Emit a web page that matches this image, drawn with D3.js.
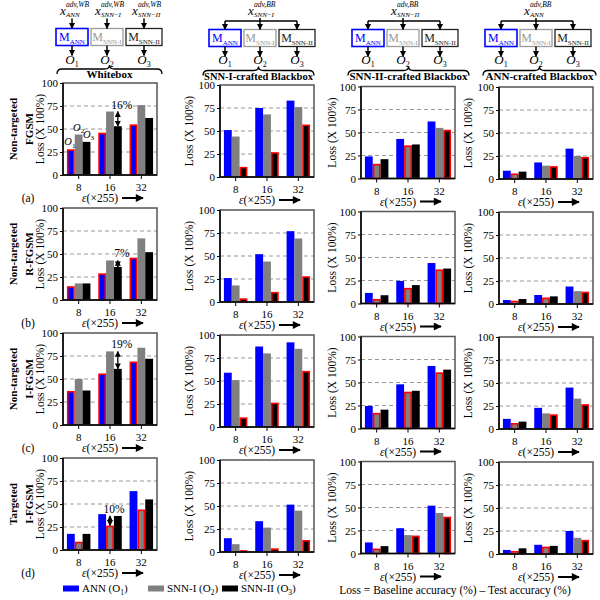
<!DOCTYPE html>
<html>
<head>
<meta charset="utf-8">
<script src="https://cdn.jsdelivr.net/npm/d3@7"></script>
<style>
  body { margin: 0; background: #fff; }
  svg text { font-family: "Liberation Serif", "DejaVu Serif", serif; }
</style>
</head>
<body>
<div id="viz"></div>
<script>
// categories / labels
const epsTicks = ["8", "16", "32"];
const seriesNames = ["ANN", "SNN-I", "SNN-II"];
const seriesColors = ["#0000ff", "#808080", "#000000"];
const yTicks = [0, 25, 50, 75, 100];
const panelTitles = ["Whitebox", "SNN-I-crafted Blackbox", "SNN-II-crafted Blackbox", "ANN-crafted Blackbox"];
const crafters = ["", "SNN\u2212I", "SNN\u2212II", "ANN"];
const modelSubs = ["ANN", "SNN-I", "SNN-II"];
const rowNames = [["Non-targeted", "FGSM"], ["Non-targeted", "R-FGSM"], ["Non-targeted", "I-FGSM"], ["Targeted", "I-FGSM"]];
const rowTags = ["(a)", "(b)", "(c)", "(d)"];

// loss (x100%) per panel: [eps 8, 16, 32] x [ANN, SNN-I, SNN-II]
// panel order: whitebox, SNN-I crafted, SNN-II crafted, ANN crafted
const lossFGSM = [
  [[28, 44, 36], [46, 69, 53], [55, 76, 62]],
  [[51, 44, 11], [75, 68, 27], [83, 76, 57]],
  [[24, 16, 21], [43, 36, 37], [62, 55, 53]],
  [[9, 6, 8], [18, 14.5, 14], [33, 25, 24]]
];
const lossRFGSM = [
  [[15, 18, 18], [29, 43, 36], [46, 67, 52]],
  [[26, 18, 4], [52, 44, 11], [77, 69, 28]],
  [[11.5, 5, 9], [24.5, 17, 20], [44, 37, 38]],
  [[4.3, 3.6, 5.4], [9.8, 7, 8.3], [19, 14, 13.4]]
];
const lossIFGSM = [
  [[37, 50, 37.5], [56, 80, 61], [69, 84, 72]],
  [[59, 51, 10.5], [87.5, 80, 26.5], [92, 85, 61]],
  [[24.5, 17, 20.5], [48, 40, 41], [68, 61, 64]],
  [[11, 6.5, 8], [23, 17, 16], [45, 33, 27]]
];
const lossTIFGSM = [
  [[17.5, 9, 17.5], [39, 26.5, 37], [64, 44, 55]],
  [[15, 8.5, 2], [33.5, 26.5, 4], [51.5, 45, 13]],
  [[12, 5.4, 8], [27.5, 20, 19.5], [52, 44, 40]],
  [[4.4, 3.3, 6.2], [10, 8, 8.8], [25, 17.6, 15.4]]
];
// gap annotations in the whitebox panels (eps 16)
const gapLabels = ["16%", "7%", "19%", "10%"];
const gapFrom = [2, 2, 2, 1];
const gapTo = [1, 1, 1, 2];

const allLoss = [lossFGSM, lossRFGSM, lossIFGSM, lossTIFGSM];

// layout
const colLeft = [63, 220, 361, 499], colDy = [0, 2, 3.5, 4];
const rowTop = [83, 208, 333, 458];
const pw = 94, ph = 92;
const yLabOff = [19, 27, 25, 27];
const diagStart = [56, 209, 352, 485];
const boxRel = [[0, 32], [35, 67], [70, 106]];
const braceSpan = [[57, 162], [203, 314], [348, 469], [483, 596]];
const titleSize = [11, 10.5, 11, 11];
const boxColors = ["#0000ff", "#9a9a9a", "#222"];
const oShift = [-1, 0, 2];
const diagDy = -1.5;

const svg = d3.select("#viz").append("svg")
    .attr("width", 600).attr("height", 600);

const defs = svg.append("defs");
defs.append("marker").attr("id", "ah")
    .attr("viewBox", "0 0 10 10").attr("refX", 9).attr("refY", 5)
    .attr("markerWidth", 6).attr("markerHeight", 6)
    .attr("markerUnits", "userSpaceOnUse").attr("orient", "auto-start-reverse")
  .append("path").attr("d", "M0,0L10,5L0,10Z");
defs.append("marker").attr("id", "ahBig")
    .attr("viewBox", "0 0 10 10").attr("refX", 9).attr("refY", 5)
    .attr("markerWidth", 10).attr("markerHeight", 8)
    .attr("markerUnits", "userSpaceOnUse").attr("orient", "auto")
  .append("path").attr("d", "M0,0L10,5L0,10Z");

// text with tspans: parts = [{t, dy, size, it}]
function rich(parent, x, y, parts, size) {
  const t = parent.append("text").attr("x", x).attr("y", y).attr("font-size", size);
  parts.forEach(p => {
    t.append("tspan").attr("dy", p.dy || 0).attr("font-size", p.size || size)
      .style("font-style", p.it ? "italic" : null).text(p.t);
  });
  return t;
}

// scales
const x0 = d3.scaleBand().domain(epsTicks).range([0, pw]).paddingInner(0.25).paddingOuter(0.125);
const x1 = d3.scaleBand().domain([0, 1, 2]).range([0, x0.bandwidth()]);
const y = d3.scaleLinear().domain([0, 100]).range([ph, 0]);

allLoss.forEach((rowData, r) => {
  rowData.forEach((panel, c) => {
    const g = svg.append("g")
        .attr("transform", `translate(${colLeft[c]},${rowTop[r] + colDy[c]})`);

    // dashed grid
    g.selectAll(".grid").data([25, 50, 75]).enter().append("line")
        .attr("x1", 0).attr("x2", pw)
        .attr("y1", d => y(d)).attr("y2", d => y(d))
        .attr("stroke", "#999").attr("stroke-width", 1.2)
        .attr("stroke-dasharray", "4,3");

    // bars
    const grp = g.selectAll(".grp").data(panel).enter().append("g")
        .attr("transform", (d, i) => `translate(${x0(epsTicks[i])},0)`);
    grp.selectAll("rect")
        .data(d => d.map((v, k) => ({v, k, min: v === d3.min(d)})))
        .enter().append("rect")
        .attr("x", d => x1(d.k) + (d.min ? 0.8 : 0))
        .attr("width", d => x1.bandwidth() - (d.min ? 1.6 : 0))
        .attr("y", d => y(d.v) + (d.min ? 0.8 : 0))
        .attr("height", d => Math.max(0, ph - y(d.v) - (d.min ? 0.8 : 0)))
        .attr("fill", d => seriesColors[d.k])
        .attr("stroke", d => d.min ? "#ff0000" : "none")
        .attr("stroke-width", 1.6);

    // axes
    const ya = g.append("g")
        .call(d3.axisLeft(y).tickValues(yTicks).tickSize(3).tickPadding(2));
    const xa = g.append("g").attr("transform", `translate(0,${ph})`)
        .call(d3.axisBottom(x0).tickSize(4).tickPadding(3));
    [ya, xa].forEach(a => {
      a.attr("font-family", "Liberation Serif").attr("font-size", 11);
      a.select(".domain").remove();
      a.selectAll("text").attr("fill", "#000");
    });
    xa.selectAll("text").attr("dy", "0.85em");

    // frame
    g.append("rect").attr("width", pw).attr("height", ph)
        .attr("fill", "none").attr("stroke", "#555").attr("stroke-width", 1.5);
    g.append("path").attr("d", `M0,0V${ph}H${pw}`)
        .attr("fill", "none").attr("stroke", "#000").attr("stroke-width", 1.5);

    // y label
    g.append("text")
        .attr("transform", `translate(${-yLabOff[c]},${ph / 2}) rotate(-90)`)
        .attr("text-anchor", "middle").attr("font-size", 11.5)
        .text("Loss (X 100%)");

    // x title with arrow
    rich(g, pw / 2 + 8, ph + 27, [{t: "\u03b5", it: true}, {t: "(\u00d7255)"}], 11.5)
        .attr("text-anchor", "end");
    g.append("line")
        .attr("x1", pw / 2 + 12).attr("x2", pw / 2 + 33)
        .attr("y1", ph + 23).attr("y2", ph + 23)
        .attr("stroke", "#000").attr("stroke-width", 2)
        .attr("marker-end", "url(#ahBig)");

    if (c === 0) {
      // row labels
      rowNames[r].forEach((s, i) => {
        g.append("text")
            .attr("transform", `translate(${-46 + i * 16},${ph / 2}) rotate(-90)`)
            .attr("text-anchor", "middle").attr("font-size", 11)
            .attr("font-weight", "bold").text(s);
      });
      g.append("text").attr("x", -35).attr("y", ph + 27)
          .attr("text-anchor", "middle").attr("font-size", 11.5).text(rowTags[r]);

      // gap annotation at eps 16
      const gi = 1;
      const from = panel[gi][gapFrom[r]], to = panel[gi][gapTo[r]];
      const ax = x0(epsTicks[gi]) + x1(gapFrom[r]) + x1.bandwidth() / 2;
      g.append("line")
          .attr("x1", ax).attr("x2", ax)
          .attr("y1", y(from)).attr("y2", y(to))
          .attr("stroke", "#000").attr("stroke-width", 1.3)
          .attr("marker-start", "url(#ah)").attr("marker-end", "url(#ah)");
      g.append("text").attr("x", ax + 4).attr("y", y(to) - 3)
          .attr("text-anchor", "middle").attr("font-size", 11.5)
          .text(gapLabels[r]);

      // O labels on first panel
      if (r === 0) {
        panel[0].forEach((v, k) => {
          rich(g, x0(epsTicks[0]) + x1(k) + x1.bandwidth() / 2 + oShift[k], y(v) - 4,
              [{t: "O", it: true}, {t: String(k + 1), dy: 2.5, size: 7}], 10.5)
              .attr("text-anchor", "middle");
        });
      }
    }
  });
});

// model diagrams on top
panelTitles.forEach((title, c) => {
  const d = svg.append("g").attr("transform", `translate(${diagStart[c]},${diagDy})`);
  const centers = boxRel.map(b => (b[0] + b[1]) / 2);
  const boxTop = c === 0 ? 30 : 31, boxH = 17;

  boxRel.forEach((b, k) => {
    d.append("rect").attr("x", b[0]).attr("y", boxTop)
        .attr("width", b[1] - b[0]).attr("height", boxH)
        .attr("fill", "#fff").attr("stroke", boxColors[k])
        .attr("stroke-width", k === 0 ? 1.6 : 1.3);
    rich(d, centers[k], boxTop + 12.5,
        [{t: "M"}, {t: modelSubs[k], dy: 2.5, size: 7}], 12)
        .attr("text-anchor", "middle").attr("fill", boxColors[k]);
    // arrow to output
    d.append("line").attr("x1", centers[k]).attr("x2", centers[k])
        .attr("y1", boxTop + boxH).attr("y2", boxTop + boxH + 10)
        .attr("stroke", "#000").attr("stroke-width", 1.5).attr("marker-end", "url(#ah)");
    rich(d, centers[k], 65.5, [{t: "O", it: true}, {t: String(k + 1), dy: 3, size: 8}], 13)
        .attr("text-anchor", "middle");
  });

  const xLabel = (cx, sup, sub) => {
    d.append("text").attr("x", cx - 12).attr("y", 16).attr("font-size", 13)
        .style("font-style", "italic").text("x");
    d.append("text").attr("x", cx - 6).attr("y", 8.5).attr("font-size", 7.5)
        .style("font-style", "italic").text(sup);
    d.append("text").attr("x", cx - 6).attr("y", 18.5).attr("font-size", 7)
        .style("font-style", "italic").text(sub);
  };

  if (c === 0) {
    ["ANN", "SNN\u2212I", "SNN\u2212II"].forEach((s, k) => {
      xLabel(centers[k], "adv,WB", s);
      d.append("line").attr("x1", centers[k]).attr("x2", centers[k])
          .attr("y1", 20).attr("y2", boxTop)
          .attr("stroke", "#000").attr("stroke-width", 1.5).attr("marker-end", "url(#ah)");
    });
  } else {
    xLabel(centers[1], "adv,BB", crafters[c]);
    d.append("path")
        .attr("d", `M${centers[1]},19.5V22.5M${centers[0]},22.5H${centers[2]}`)
        .attr("stroke", "#000").attr("stroke-width", 1.5).attr("fill", "none");
    centers.forEach(cx => {
      d.append("line").attr("x1", cx).attr("x2", cx)
          .attr("y1", 22.5).attr("y2", boxTop)
          .attr("stroke", "#000").attr("stroke-width", 1.5).attr("marker-end", "url(#ah)");
    });
  }

  // brace + title
  const [bx0, bx1] = braceSpan[c];
  const mid = (bx0 + bx1) / 2, yl = (c === 0 ? 70.5 : 72) + diagDy;
  svg.append("path")
      .attr("d", `M${bx0},${yl + 5}Q${bx0},${yl} ${bx0 + 5},${yl}L${mid - 5},${yl}` +
                 `Q${mid},${yl} ${mid},${yl - 4}Q${mid},${yl} ${mid + 5},${yl}` +
                 `L${bx1 - 5},${yl}Q${bx1},${yl} ${bx1},${yl + 5}`)
      .attr("fill", "none").attr("stroke", "#000").attr("stroke-width", 1.3);
  svg.append("text").attr("x", mid).attr("y", yl + 9)
      .attr("text-anchor", "middle").attr("font-size", titleSize[c])
      .attr("font-weight", "bold").text(title);
});

// legend
const legX = [63, 148, 222];
seriesNames.forEach((s, k) => {
  svg.append("rect").attr("x", legX[k]).attr("y", 585.5)
      .attr("width", 16).attr("height", 6).attr("fill", seriesColors[k]);
  rich(svg, legX[k] + 19, 592,
      [{t: s + " (O"}, {t: String(k + 1), dy: 3, size: 7.5}, {t: ")", dy: -3}], 11);
});

svg.append("text").attr("x", 455).attr("y", 594)
    .attr("text-anchor", "middle").attr("font-size", 11.5)
    .text("Loss = Baseline accuracy (%)  \u2013 Test accuracy (%)");
</script>
</body>
</html>
